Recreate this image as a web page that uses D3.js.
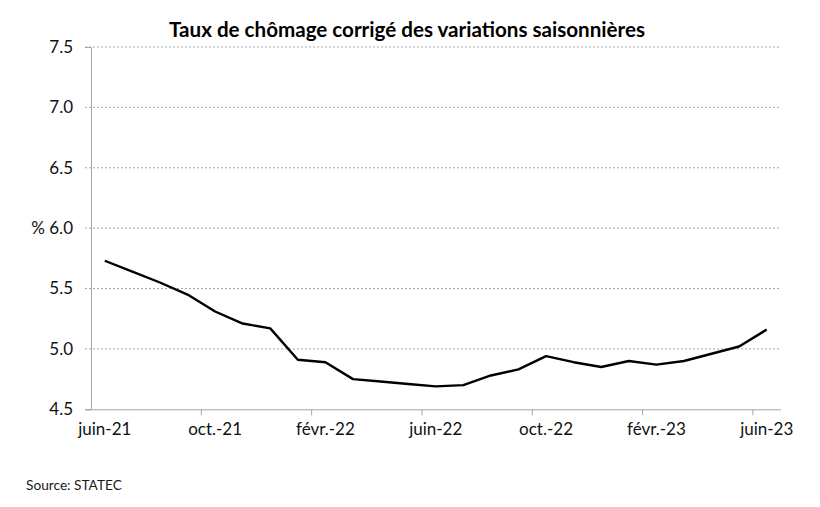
<!DOCTYPE html>
<html><head><meta charset="utf-8">
<script src="https://cdn.jsdelivr.net/npm/d3@7"></script>
<style>body{margin:0;background:#fff}svg{display:block}</style>
</head><body>
<svg id="c" width="820" height="507"></svg>
<script>
const months = ["juin-21","juil.-21","août-21","sept.-21","oct.-21","nov.-21","déc.-21","janv.-22","févr.-22","mars-22","avr.-22","mai-22","juin-22","juil.-22","août-22","sept.-22","oct.-22","nov.-22","déc.-22","janv.-23","févr.-23","mars-23","avr.-23","mai-23","juin-23"];
const rate = [5.73,5.64,5.55,5.45,5.31,5.21,5.17,4.91,4.89,4.75,4.73,4.71,4.69,4.70,4.78,4.83,4.94,4.89,4.85,4.90,4.87,4.90,4.96,5.02,5.16];
const yTicks = [4.5,5.0,5.5,6.0,6.5,7.0,7.5];
const title = "Taux de chômage corrigé des variations saisonnières";
const source = "Source: STATEC";

const svg = d3.select("#c");
const font = "Lato, 'Open Sans', sans-serif";
const L = 91, R = 780.5, T = 47, B = 409.3;
const x = d3.scaleBand().domain(months).range([L, R]);
const y = d3.scaleLinear().domain([4.5, 7.5]).range([B, T]);

// gridlines
svg.append("g").selectAll("line").data(yTicks.filter(d => d > 4.5)).join("line")
  .attr("x1", L - 6).attr("x2", R).attr("y1", d => y(d)).attr("y2", d => y(d))
  .attr("stroke", "#a6a6a6").attr("stroke-width", 1).attr("stroke-dasharray", "2,2");

// y axis
const ya = svg.append("g").attr("transform", `translate(${L},0)`)
  .call(d3.axisLeft(y).tickValues(yTicks).tickSize(6).tickPadding(12)
    .tickFormat(d => (d === 6 ? "% " : "") + d3.format(".1f")(d)));
ya.select(".domain").attr("stroke", "#a6a6a6");
ya.selectAll(".tick line").attr("stroke", d => d === 4.5 ? "#a6a6a6" : "none");
ya.selectAll("text").attr("font-family", font).attr("font-size", 17).attr("fill", "#111");

// x axis
const xa = svg.append("g").attr("transform", `translate(0,${B})`)
  .call(d3.axisBottom(x).tickSize(0).tickPadding(14)
    .tickValues(months.filter((d, i) => i % 4 === 0)));
xa.select(".domain").attr("stroke", "#a6a6a6");
xa.selectAll("text").attr("font-family", font).attr("font-size", 17).attr("fill", "#111");
// tick marks at category boundaries every 4 categories
svg.append("g").selectAll("line").data(months.filter((d, i) => i % 4 === 0 && i > 0)).join("line")
  .attr("x1", d => x(d)).attr("x2", d => x(d)).attr("y1", B).attr("y2", B + 6)
  .attr("stroke", "#a6a6a6");

// line
const line = d3.line().x((d, i) => x(months[i]) + x.bandwidth() / 2).y(d => y(d));
svg.append("path").datum(rate).attr("d", line)
  .attr("fill", "none").attr("stroke", "#000").attr("stroke-width", 2.4).attr("stroke-linejoin", "round");

svg.append("text").attr("x", 407).attr("y", 37).attr("text-anchor", "middle")
  .attr("font-family", font).attr("font-weight", "bold").attr("font-size", 20.6).attr("fill", "#000").text(title);
svg.append("text").attr("x", 26).attr("y", 490)
  .attr("font-family", font).attr("font-size", 13.7).attr("fill", "#1a1a1a").text(source);
</script>
</body></html>
